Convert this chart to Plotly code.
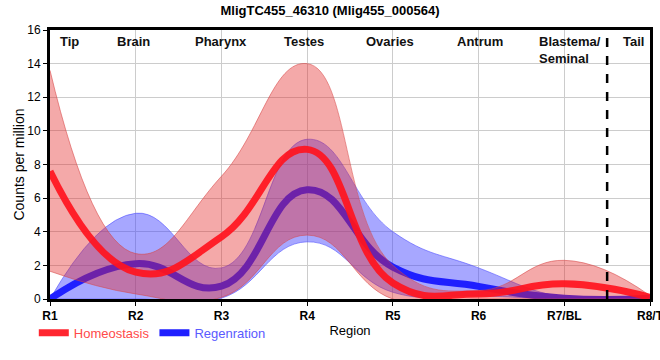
import plotly.graph_objects as go

regions = ["R1", "R2", "R3", "R4", "R5", "R6", "R7/BL", "R8/T"]
homeo_mean = [7.6, 1.6, 3.7, 8.9, 0.95, 0.3, 0.9, 0.1]
homeo_upper = [13.6, 2.7, 7.3, 14.0, 2.0, 0.5, 2.3, 0.2]
homeo_lower = [1.65, 0.3, 0.1, 3.8, 0.0, 0.0, 0.0, 0.0]
regen_mean = [0.0, 2.1, 0.76, 6.5, 1.9, 0.75, 0.05, 0.05]
regen_upper = [0.0, 5.1, 1.85, 9.5, 4.0, 1.85, 0.1, 0.1]
regen_lower = [0.0, 0.0, 0.05, 3.4, 0.4, 0.2, 0.0, 0.0]
region_names = ["Tip", "Brain", "Pharynx", "Testes", "Ovaries", "Antrum", "Blastema/<br>Seminal", "Tail"]
region_label_x = [0.23, 0.97, 2.0, 2.96, 3.97, 5.02, 5.68, 6.81]

SANS = "Liberation Sans, Arial, sans-serif"
SM = 1.3
x = list(range(len(regions)))

fig = go.Figure()
# Regeneration band
fig.add_trace(go.Scatter(x=x, y=regen_upper, mode="lines",
                         line=dict(shape="spline", smoothing=SM, color="rgba(70,70,255,0.55)", width=1),
                         showlegend=False, legendgroup="r", hoverinfo="skip"))
fig.add_trace(go.Scatter(x=x, y=regen_lower, mode="lines",
                         line=dict(shape="spline", smoothing=SM, color="rgba(70,70,255,0.55)", width=1),
                         fill="tonexty", fillcolor="rgba(60,60,255,0.45)", showlegend=False, legendgroup="r",
                         hoverinfo="skip"))
fig.add_trace(go.Scatter(x=x, y=regen_mean, mode="lines",
                         line=dict(shape="spline", smoothing=SM, color="#1f1fff", width=7),
                         name="<span style='color:#5a5aff'>Regenration</span>", legendgroup="r", legendrank=2))
# Homeostasis band
fig.add_trace(go.Scatter(x=x, y=homeo_upper, mode="lines",
                         line=dict(shape="spline", smoothing=SM, color="rgba(215,70,70,0.55)", width=1),
                         showlegend=False, legendgroup="h", hoverinfo="skip"))
fig.add_trace(go.Scatter(x=x, y=homeo_lower, mode="lines",
                         line=dict(shape="spline", smoothing=SM, color="rgba(215,70,70,0.55)", width=1),
                         fill="tonexty", fillcolor="rgba(228,40,40,0.4)", showlegend=False, legendgroup="h",
                         hoverinfo="skip"))
fig.add_trace(go.Scatter(x=x, y=homeo_mean, mode="lines",
                         line=dict(shape="spline", smoothing=SM, color="rgba(255,20,30,0.92)", width=7),
                         name="<span style='color:#ff4a4a'>Homeostasis</span>", legendgroup="h", legendrank=1))

fig.add_shape(type="line", x0=6.5, x1=6.5, y0=0, y1=16, xref="x", yref="y",
              line=dict(color="black", width=2.5, dash="dash"))

for nm, lx in zip(region_names, region_label_x):
    fig.add_annotation(x=lx, y=1, xref="x", yref="paper", text="<b>" + nm + "</b>", showarrow=False,
                       xanchor="left" if "Blastema" in nm else "center", yanchor="top",
                       align="left", font=dict(family=SANS, size=13, color="#111"), yshift=-2)

fig.update_layout(
    width=660, height=360,
    margin=dict(l=50, r=10, t=30, b=61, autoexpand=False),
    paper_bgcolor="white", plot_bgcolor="white",
    title=dict(text="<b>MligTC455_46310 (Mlig455_000564)</b>", x=0.5, xanchor="center", y=0.985, yanchor="top",
               font=dict(family=SANS, size=13, color="black")),
    showlegend=True,
    legend=dict(orientation="h", x=-0.027, xanchor="left", y=-0.07, yanchor="top",
                font=dict(family=SANS, size=13),
                itemwidth=30, tracegroupgap=0, bgcolor="rgba(0,0,0,0)", traceorder="normal"),
    xaxis=dict(range=[0, 7], tickmode="array", tickvals=x, ticktext=["<b>" + r + "</b>" for r in regions],
               showgrid=True, gridcolor="#cccccc", gridwidth=1, zeroline=False,
               showline=True, linecolor="black", linewidth=3, mirror=True,
               ticks="outside", ticklen=4, tickcolor="black", ticklabeloverflow="allow",
               tickfont=dict(family=SANS, size=12, color="black"),
               title=dict(text="Region", font=dict(family=SANS, size=13, color="black"), standoff=4)),
    yaxis=dict(range=[0, 16], dtick=2, showgrid=True, gridcolor="#cccccc", gridwidth=1, zeroline=False,
               showline=True, linecolor="black", linewidth=3, mirror=True,
               ticks="outside", ticklen=4, tickcolor="black",
               tickfont=dict(family=SANS, size=12, color="black"),
               title=dict(text="Counts per million", font=dict(family=SANS, size=14, color="black"), standoff=0)),
)

fig.write_html("out.html", config={"displayModeBar": False},
               post_script="document.body.style.margin='0';document.body.style.overflow='hidden';")
